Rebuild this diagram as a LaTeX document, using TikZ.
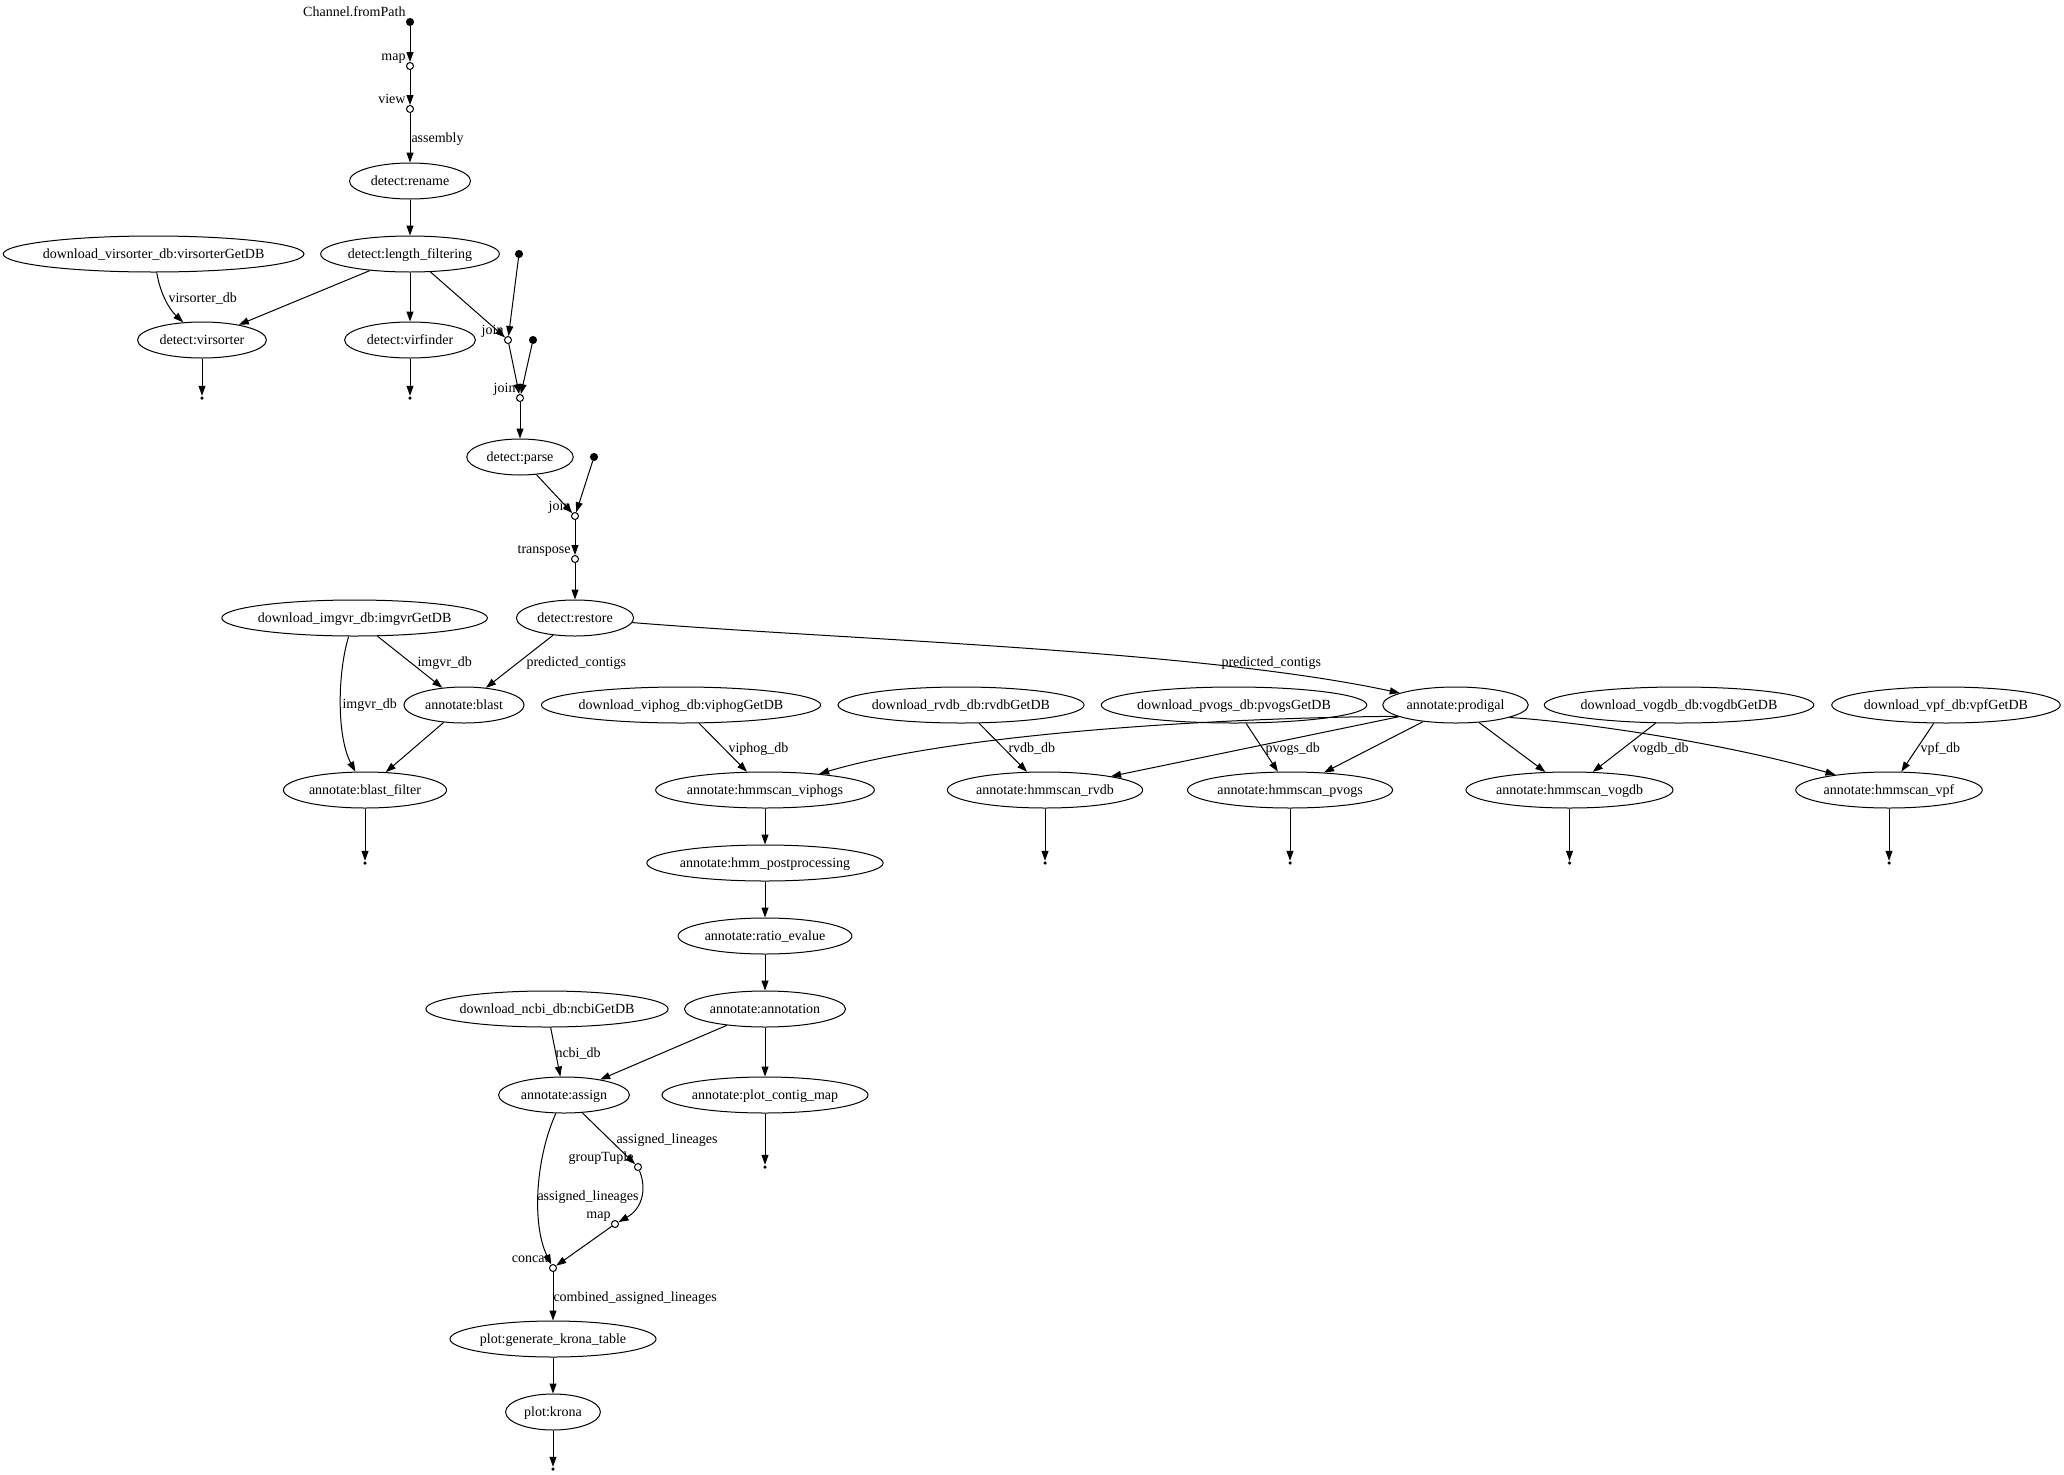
\documentclass[tikz,border=0pt]{standalone}
\usepackage{fontspec}
\setmainfont{Liberation Serif}
\usetikzlibrary{arrows.meta,shapes.geometric}
\newlength\gvw
\newcommand\gvfont{\fontsize{14}{16}\selectfont}
\newcommand\gvbox[1]{\settowidth{\gvw}{#1}\gvw=0.8874\gvw\advance\gvw by 15.97pt\makebox[\gvw]{#1}}
\newcommand\gvnode[4]{%
  \node[proc] (#1) at (#2,#3) {\gvbox{#4}};%
}
\tikzset{
  proc/.style={ellipse, draw, inner sep=0pt, minimum height=36pt, text height=10pt, text depth=2pt},
  startpt/.style={circle, draw, fill=black, inner sep=0pt, minimum size=7pt},
  oppt/.style={circle, draw, fill=white, inner sep=0pt, minimum size=7pt},
  endpt/.style={circle, fill=black, inner sep=0pt, minimum size=3.5pt},
  plbl/.style={anchor=base east, inner sep=0pt},
  elbl/.style={anchor=base west, inner sep=0pt},
  e/.style={-{Triangle[length=10pt,width=7pt]}}
}
\begin{document}
\begin{tikzpicture}[x=1pt, y=-1pt, font=\gvfont, line width=1pt]
\useasboundingbox (0,0) rectangle (2064,1475);

% ---- top chain
\node[startpt] (fp) at (410,22) {};
\node[oppt] (mapA) at (410,66) {};
\node[oppt] (view) at (410,109) {};
\gvnode{rename}{410}{181}{detect:rename}
\gvnode{lf}{410}{254}{detect:length\_filtering}
\gvnode{vsdb}{153.6}{254}{download\_virsorter\_db:virsorterGetDB}
\gvnode{virsorter}{202}{340}{detect:virsorter}
\gvnode{virfinder}{410}{340}{detect:virfinder}
\node[endpt] (vsend) at (202,398) {};
\node[endpt] (vfend) at (410,398) {};
\node[startpt] (dot1) at (519,254) {};
\node[oppt] (join1) at (508,340) {};
\node[startpt] (dot2) at (533,340) {};
\node[oppt] (join2) at (520,398) {};
\gvnode{parse}{520}{457}{detect:parse}
\node[startpt] (dot3) at (594,457) {};
\node[oppt] (join3) at (575,516) {};
\node[oppt] (transpose) at (575,559) {};
\gvnode{restore}{575}{618}{detect:restore}

% ---- annotate row
\gvnode{imgvr}{354.6}{618}{download\_imgvr\_db:imgvrGetDB}
\gvnode{blast}{464}{705}{annotate:blast}
\gvnode{bfilter}{365}{790}{annotate:blast\_filter}
\node[endpt] (bfend) at (365,863) {};
\gvnode{viphogdb}{681}{705}{download\_viphog\_db:viphogGetDB}
\gvnode{rvdbdb}{961}{705}{download\_rvdb\_db:rvdbGetDB}
\gvnode{pvogsdb}{1234}{705}{download\_pvogs\_db:pvogsGetDB}
\gvnode{prodigal}{1455.5}{705}{annotate:prodigal}
\gvnode{vogdbdb}{1679}{705}{download\_vogdb\_db:vogdbGetDB}
\gvnode{vpfdb}{1946}{705}{download\_vpf\_db:vpfGetDB}
\gvnode{viphogs}{765}{790}{annotate:hmmscan\_viphogs}
\gvnode{hrvdb}{1045}{790}{annotate:hmmscan\_rvdb}
\gvnode{hpvogs}{1290}{790}{annotate:hmmscan\_pvogs}
\gvnode{hvogdb}{1569.5}{790}{annotate:hmmscan\_vogdb}
\gvnode{hvpf}{1889}{790}{annotate:hmmscan\_vpf}
\node[endpt] (rvend) at (1045,863) {};
\node[endpt] (pvend) at (1290,863) {};
\node[endpt] (voend) at (1569.5,863) {};
\node[endpt] (vpend) at (1889,863) {};
\gvnode{hmmpost}{765}{863}{annotate:hmm\_postprocessing}
\gvnode{ratio}{765}{936}{annotate:ratio\_evalue}
\gvnode{annotation}{765}{1009}{annotate:annotation}
\gvnode{ncbidb}{547}{1009}{download\_ncbi\_db:ncbiGetDB}
\gvnode{assign}{564}{1095}{annotate:assign}
\gvnode{plotmap}{765}{1095}{annotate:plot\_contig\_map}
\node[endpt] (pmend) at (765,1167) {};
\node[oppt] (gt) at (638,1167) {};
\node[oppt] (mapB) at (615,1224) {};
\node[oppt] (concat) at (553,1268) {};
\gvnode{gkt}{553}{1339}{plot:generate\_krona\_table}
\gvnode{krona}{553}{1412}{plot:krona}
\node[endpt] (kend) at (553,1469) {};

% ---- point labels
\node[plbl] (lfp) at ([shift={(-4,-6)}]fp.center) {Channel.fromPath};
\node[plbl] (lmapA) at ([shift={(-4,-6)}]mapA.center) {map};
\node[plbl] (lview) at ([shift={(-4,-6)}]view.center) {view};
\node[plbl] (ljoin1) at ([shift={(-4,-6)}]join1.center) {join};
\node[plbl] (ljoin2) at ([shift={(-4,-6)}]join2.center) {join};
\node[plbl] (ljoin3) at ([shift={(-4,-6)}]join3.center) {join};
\node[plbl] (ltranspose) at ([shift={(-4,-6)}]transpose.center) {transpose};
\node[plbl] (lgt) at ([shift={(-4,-6)}]gt.center) {groupTuple};
\node[plbl] (lmapB) at ([shift={(-4,-6)}]mapB.center) {map};
\node[plbl] (lconcat) at ([shift={(-4,-6)}]concat.center) {concat};

% ---- edge labels
\node[elbl] (e1) at (411,142.5) {assembly};
\node[elbl] (e2) at (168,302.5) {virsorter\_db};
\node[elbl] (e3) at (417,666.5) {imgvr\_db};
\node[elbl] (e4) at (526,666.5) {predicted\_contigs};
\node[elbl] (e5) at (1221,666.5) {predicted\_contigs};
\node[elbl] (e6) at (342,708.5) {imgvr\_db};
\node[elbl] (e7) at (728,752.5) {viphog\_db};
\node[elbl] (e8) at (1008,752.5) {rvdb\_db};
\node[elbl] (e9) at (1265,752.5) {pvogs\_db};
\node[elbl] (e10) at (1632,752.5) {vogdb\_db};
\node[elbl] (e11) at (1920,752.5) {vpf\_db};
\node[elbl] (e12) at (555,1057.5) {ncbi\_db};
\node[elbl] (e13) at (616,1143.5) {assigned\_lineages};
\node[elbl] (e14) at (537,1200.5) {assigned\_lineages};
\node[elbl] (e15) at (553,1301.5) {combined\_assigned\_lineages};

% ---- edges
\draw[e] (fp) -- (mapA);
\draw[e] (mapA) -- (view);
\draw[e] (view) -- (rename);
\draw[e] (rename) -- (lf);
\draw[e] (vsdb) .. controls (160,292) and (168,308) .. (virsorter);
\draw[e] (lf) -- (virsorter);
\draw[e] (lf) -- (virfinder);
\draw[e] (lf) -- (join1);
\draw[e] (dot1) -- (join1);
\draw[e] (virsorter) -- (vsend);
\draw[e] (virfinder) -- (vfend);
\draw[e] (join1) -- (join2);
\draw[e] (dot2) -- (join2);
\draw[e] (join2) -- (parse);
\draw[e] (parse) -- (join3);
\draw[e] (dot3) -- (join3);
\draw[e] (join3) -- (transpose);
\draw[e] (transpose) -- (restore);
\draw[e] (imgvr) -- (blast);
\draw[e] (restore) -- (blast);
\draw[e] (imgvr) .. controls (338,670) and (336,735) .. (bfilter);
\draw[e] (blast) -- (bfilter);
\draw[e] (bfilter) -- (bfend);
\draw[e] (restore) .. controls (850,640) and (1200,650) .. (prodigal);
\draw[e] (viphogdb) -- (viphogs);
\draw[e] (prodigal.191) .. controls (1200,718) and (950,735) .. (viphogs);
\draw[e] (rvdbdb) -- (hrvdb);
\draw[e] (prodigal) -- (hrvdb);
\draw[e] (pvogsdb) -- (hpvogs);
\draw[e] (prodigal) -- (hpvogs);
\draw[e] (prodigal) -- (hvogdb);
\draw[e] (vogdbdb) -- (hvogdb);
\draw[e] (prodigal.347) .. controls (1580,722) and (1720,742) .. (hvpf);
\draw[e] (vpfdb) -- (hvpf);
\draw[e] (hrvdb) -- (rvend);
\draw[e] (hpvogs) -- (pvend);
\draw[e] (hvogdb) -- (voend);
\draw[e] (hvpf) -- (vpend);
\draw[e] (viphogs) -- (hmmpost);
\draw[e] (hmmpost) -- (ratio);
\draw[e] (ratio) -- (annotation);
\draw[e] (annotation) -- (assign);
\draw[e] (ncbidb) -- (assign);
\draw[e] (annotation) -- (plotmap);
\draw[e] (plotmap) -- (pmend);
\draw[e] (assign) -- (gt);
\draw[e] (assign) .. controls (535,1160) and (532,1225) .. (concat);
\draw[e] (gt) .. controls (648,1192) and (640,1210) .. (mapB);
\draw[e] (mapB) -- (concat);
\draw[e] (concat) -- (gkt);
\draw[e] (gkt) -- (krona);
\draw[e] (krona) -- (kend);
\end{tikzpicture}
\end{document}
